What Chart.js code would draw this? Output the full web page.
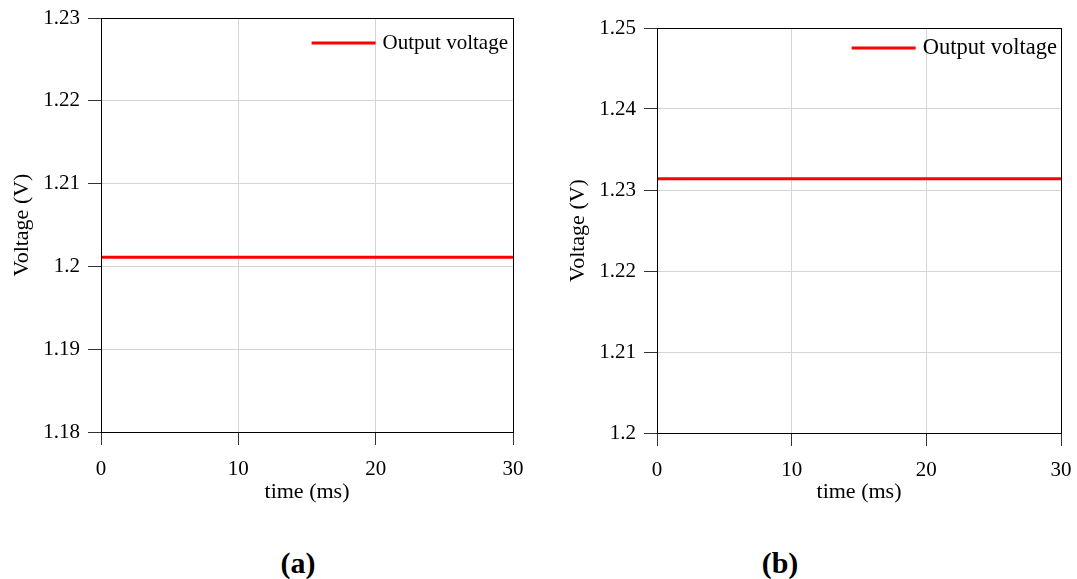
<!DOCTYPE html>
<html>
<head>
<meta charset="utf-8">
<script src="https://cdn.jsdelivr.net/npm/chart.js@4.4.1/dist/chart.umd.min.js"></script>
<style>
    html, body { margin: 0; padding: 0; background: #fff; }
    body { width: 1077px; height: 579px; position: relative; overflow: hidden; }
    .box { position: absolute; top: 0; height: 520px; }
    .cap {
        position: absolute; top: 544px; width: 80px; text-align: center;
        font-family: "Liberation Serif", "Times New Roman", serif;
        font-weight: bold; font-size: 30px; line-height: 38px; color: #000;
    }
</style>
</head>
<body>
<div class="box" style="left:0;width:540px"><canvas id="chartA"></canvas></div>
<div class="box" style="left:550px;width:527px"><canvas id="chartB"></canvas></div>
<div class="cap" style="left:258px">(a)</div>
<div class="cap" style="left:740px">(b)</div>
<script>
// ========== 数据 ==========
const timeA = [0, 10, 20, 30];
const voltA = [1.2011, 1.2011, 1.2011, 1.2011];
const yLabelsA = ['1.18', '1.19', '1.2', '1.21', '1.22', '1.23'];

const timeB = [0, 10, 20, 30];
const voltB = [1.2314, 1.2314, 1.2314, 1.2314];
const yLabelsB = ['1.2', '1.21', '1.22', '1.23', '1.24', '1.25'];

const xLabels = ['0', '10', '20', '30'];
const seriesName = 'Output voltage';

const FONT = '"Liberation Serif", "Times New Roman", serif';

// ========== 外框 + 图例 ==========
const framePlugin = {
    id: 'frame',
    afterDraw(chart, args, opts) {
        const { ctx, chartArea: a } = chart;
        ctx.save();
        ctx.strokeStyle = '#000';
        ctx.lineWidth = 1;
        ctx.strokeRect(Math.round(a.left) + 0.5, Math.round(a.top) + 0.5,
            Math.round(a.right - a.left), Math.round(a.bottom - a.top));

        // legend in the top right corner of the plot
        const ds = chart.data.datasets[0];
        ctx.font = `${opts.size}px ${FONT}`;
        ctx.textBaseline = 'middle';
        ctx.fillStyle = '#000';
        const w = ctx.measureText(ds.label).width;
        const tx = a.right - opts.right - w;
        const ty = a.top + opts.top;
        ctx.fillText(ds.label, tx, ty);
        ctx.strokeStyle = ds.borderColor;
        ctx.lineWidth = 3;
        ctx.beginPath();
        ctx.moveTo(tx - 7 - 64, ty);
        ctx.lineTo(tx - 7, ty);
        ctx.stroke();
        ctx.restore();
    }
};

function makeChart(id, time, volt, yLabels, yMin, yMax, lay) {
    const pts = time.map((t, i) => ({ x: t, y: volt[i] }));
    return new Chart(document.getElementById(id), {
        type: 'line',
        data: {
            datasets: [{
                label: seriesName,
                data: pts,
                borderColor: '#ff0000',
                borderWidth: 3,
                pointRadius: 0,
                fill: false,
                tension: 0
            }]
        },
        options: {
            responsive: true,
            maintainAspectRatio: false,
            animation: false,
            layout: { padding: { top: lay.top, right: lay.right, left: 0, bottom: 0 } },
            plugins: {
                legend: { display: false },
                tooltip: { enabled: false },
                frame: { right: lay.legRight, top: lay.legTop, size: lay.legSize }
            },
            scales: {
                x: {
                    type: 'linear',
                    min: 0, max: 30,
                    afterFit: s => {
                        s.height = lay.xh;
                        s.paddingLeft = 0;
                        s.paddingRight = 0;
                    },
                    ticks: {
                        stepSize: 10,
                        color: '#000',
                        padding: 12,
                        maxRotation: 0,
                        font: { family: FONT, size: 21 },
                        callback: (v, i) => xLabels[i]
                    },
                    grid: { color: '#d4d4d4', tickColor: '#333', tickLength: 13 },
                    border: { color: '#000', width: 1 },
                    title: {
                        display: true, text: 'time (ms)', color: '#000',
                        font: { family: FONT, size: 22 },
                        padding: { top: 0, bottom: 15 }
                    }
                },
                y: {
                    min: yMin, max: yMax,
                    afterFit: s => {
                        s.width = lay.yw;
                        s.paddingTop = 0;
                        s.paddingBottom = 0;
                    },
                    ticks: {
                        stepSize: 0.01,
                        color: '#000',
                        padding: 8,
                        font: { family: FONT, size: 21 },
                        callback: (v, i) => yLabels[i]
                    },
                    grid: { color: '#d4d4d4', tickColor: '#333', tickLength: 13 },
                    border: { color: '#000', width: 1 },
                    title: {
                        display: true, text: 'Voltage (V)', color: '#000',
                        font: { family: FONT, size: 22 },
                        padding: { top: lay.yTitlePad, bottom: 0 }
                    }
                }
            }
        },
        plugins: [framePlugin]
    });
}

makeChart('chartA', timeA, voltA, yLabelsA, 1.18, 1.23,
    { top: 18, right: 27, xh: 88, yw: 101, yTitlePad: 9, legRight: 5, legTop: 25, legSize: 21 });
makeChart('chartB', timeB, voltB, yLabelsB, 1.2, 1.25,
    { top: 28, right: 16, xh: 87, yw: 107, yTitlePad: 15, legRight: 4, legTop: 20, legSize: 22.5 });
</script>
</body>
</html>
